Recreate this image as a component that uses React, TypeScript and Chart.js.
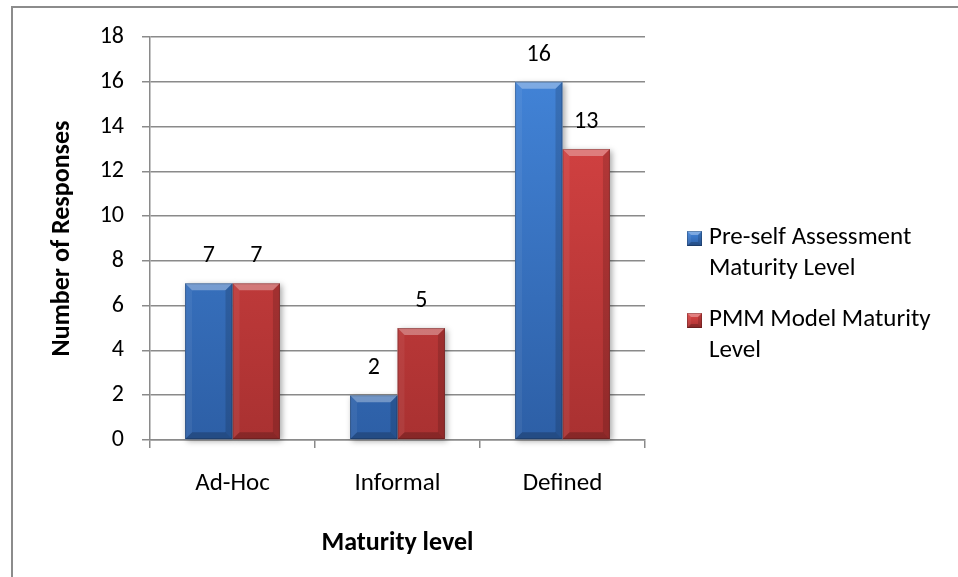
import { useEffect, useRef } from "react";
import { Chart, registerables } from "chart.js";

Chart.register(...registerables);

// Data
const categories = ["Ad-Hoc", "Informal", "Defined"];
const preSelfAssessment = [7, 2, 16];
const pmmModel = [7, 5, 13];
const seriesNames = ["Pre-self Assessment Maturity Level", "PMM Model Maturity Level"];
const legendLines = [
  ["Pre-self Assessment", "Maturity Level"],
  ["PMM Model Maturity", "Level"],
];
const yMin = 0;
const yMax = 18;
const yStep = 2;

const FONT = "Carlito, Lato, 'Noto Sans', sans-serif";
const GRID = "#8a8a8a";

const palettes = [
  { top: "#4487dc", bottom: "#2d5fa6", solid: "#3b78c8" },
  { top: "#de4646", bottom: "#a93131", solid: "#c83c3c" },
];

function gradientFor(idx: number) {
  return (ctx: any) => {
    const chart = ctx.chart;
    const area = chart.chartArea;
    const p = palettes[idx];
    if (!area) return p.solid;
    const g = chart.ctx.createLinearGradient(0, area.top, 0, area.bottom);
    g.addColorStop(0, p.top);
    g.addColorStop(1, p.bottom);
    return g;
  };
}

function drawBevel(c: CanvasRenderingContext2D, left: number, top: number, right: number, bottom: number, size: number) {
  const h = bottom - top;
  const b = Math.min(size, h / 3, (right - left) / 3);
  const poly = (pts: number[][], fill: string) => {
    c.beginPath();
    c.moveTo(pts[0][0], pts[0][1]);
    for (let i = 1; i < pts.length; i++) c.lineTo(pts[i][0], pts[i][1]);
    c.closePath();
    c.fillStyle = fill;
    c.fill();
  };
  poly([[left, top], [right, top], [right - b, top + b], [left + b, top + b]], "rgba(255,255,255,0.32)");
  poly([[left, top], [left + b, top + b], [left + b, bottom - b], [left, bottom]], "rgba(255,255,255,0.06)");
  poly([[right, top], [right, bottom], [right - b, bottom - b], [right - b, top + b]], "rgba(0,0,0,0.14)");
  poly([[left, bottom], [left + b, bottom - b], [right - b, bottom - b], [right, bottom]], "rgba(0,0,0,0.2)");
  c.strokeStyle = "rgba(0,0,0,0.22)";
  c.lineWidth = 1;
  c.strokeRect(left + 0.5, top + 0.5, right - left - 1, bottom - top - 1);
}

const framePlugin = {
  id: "frame",
  beforeDraw(chart: any) {
    const c = chart.ctx;
    c.save();
    c.fillStyle = "#ffffff";
    c.fillRect(0, 0, chart.width, chart.height);
    c.strokeStyle = "#8c8c8c";
    c.lineWidth = 2;
    c.beginPath();
    c.moveTo(12, chart.height);
    c.lineTo(12, 7);
    c.lineTo(chart.width, 7);
    c.stroke();
    c.restore();
  },
};

const barEffectsPlugin = {
  id: "barEffects",
  beforeDatasetsDraw(chart: any) {
    const c = chart.ctx;
    c.save();
    c.shadowColor = "rgba(0,0,0,0.35)";
    c.shadowBlur = 6;
    c.shadowOffsetX = 2;
    c.shadowOffsetY = 2;
    c.fillStyle = "#ffffff";
    chart.data.datasets.forEach((_: any, di: number) => {
      chart.getDatasetMeta(di).data.forEach((el: any) => {
        const w = el.width;
        c.fillRect(el.x - w / 2, el.y, w, el.base - el.y);
      });
    });
    c.restore();
  },
  afterDatasetsDraw(chart: any) {
    const c = chart.ctx;
    c.save();
    chart.data.datasets.forEach((ds: any, di: number) => {
      chart.getDatasetMeta(di).data.forEach((el: any, i: number) => {
        const w = el.width;
        drawBevel(c, el.x - w / 2, el.y, el.x + w / 2, el.base, 7);
        c.fillStyle = "#000000";
        c.font = `24px ${FONT}`;
        c.textAlign = "center";
        c.textBaseline = "middle";
        c.fillText(String(ds.data[i]), el.x, el.y - 27);
      });
    });
    c.restore();
  },
};

const legendPlugin = {
  id: "sideLegend",
  afterDraw(chart: any) {
    const c = chart.ctx;
    c.save();
    const itemTops = [238, 320];
    const lineGap = 31;
    legendLines.forEach((lines, idx) => {
      const y0 = itemTops[idx];
      const p = palettes[idx];
      const g = c.createLinearGradient(0, y0 - 7, 0, y0 + 8);
      g.addColorStop(0, p.top);
      g.addColorStop(1, p.bottom);
      c.fillStyle = g;
      c.fillRect(687, y0 - 7, 15, 15);
      drawBevel(c, 687, y0 - 7, 702, y0 + 8, 4);
      c.fillStyle = "#000000";
      c.font = `25px ${FONT}`;
      c.textAlign = "left";
      c.textBaseline = "middle";
      lines.forEach((t, li) => c.fillText(t, 709, y0 + li * lineGap));
    });
    c.restore();
  },
};

export default function App() {
  const ref = useRef<HTMLCanvasElement | null>(null);

  useEffect(() => {
    if (!ref.current) return;
    const chart = new Chart(ref.current, {
      type: "bar",
      data: {
        labels: categories,
        datasets: [
          {
            label: seriesNames[0],
            data: preSelfAssessment,
            backgroundColor: gradientFor(0),
            borderWidth: 0,
            categoryPercentage: 0.575,
            barPercentage: 1,
          },
          {
            label: seriesNames[1],
            data: pmmModel,
            backgroundColor: gradientFor(1),
            borderWidth: 0,
            categoryPercentage: 0.575,
            barPercentage: 1,
          },
        ],
      },
      options: {
        responsive: false,
        animation: false,
        devicePixelRatio: 1,
        layout: { padding: { top: 37, right: 313, left: 0, bottom: 0 } },
        plugins: {
          legend: { display: false },
          tooltip: { enabled: false },
        },
        scales: {
          x: {
            grid: {
              offset: true,
              drawOnChartArea: false,
              tickLength: 8,
              color: GRID,
              lineWidth: 1.5,
            },
            border: { color: GRID, width: 1.5 },
            ticks: { color: "#000", padding: 21, font: { size: 25, family: FONT } },
            title: {
              display: true,
              text: "Maturity level",
              color: "#000",
              font: { size: 26, weight: "bold", family: FONT },
              padding: { top: 0, bottom: 18 },
            },
            afterFit: (s: any) => {
              s.height = 137;
            },
          },
          y: {
            min: yMin,
            max: yMax,
            ticks: {
              stepSize: yStep,
              color: "#000",
              padding: 18,
              font: { size: 24, family: FONT },
            },
            grid: { color: GRID, lineWidth: 1.5, tickLength: 8 },
            border: { color: GRID, width: 1.5 },
            title: {
              display: true,
              text: "Number of Responses",
              color: "#000",
              font: { size: 26, weight: "bold", family: FONT },
              padding: { top: 47, bottom: 0 },
            },
            afterFit: (s: any) => {
              s.width = 150;
            },
          },
        },
      },
      plugins: [framePlugin, barEffectsPlugin, legendPlugin],
    });
    return () => chart.destroy();
  }, []);

  return (
    <div style={{ position: "absolute", left: 0, top: 0, width: 958, height: 577 }}>
      <canvas ref={ref} width={958} height={577} />
    </div>
  );
}
